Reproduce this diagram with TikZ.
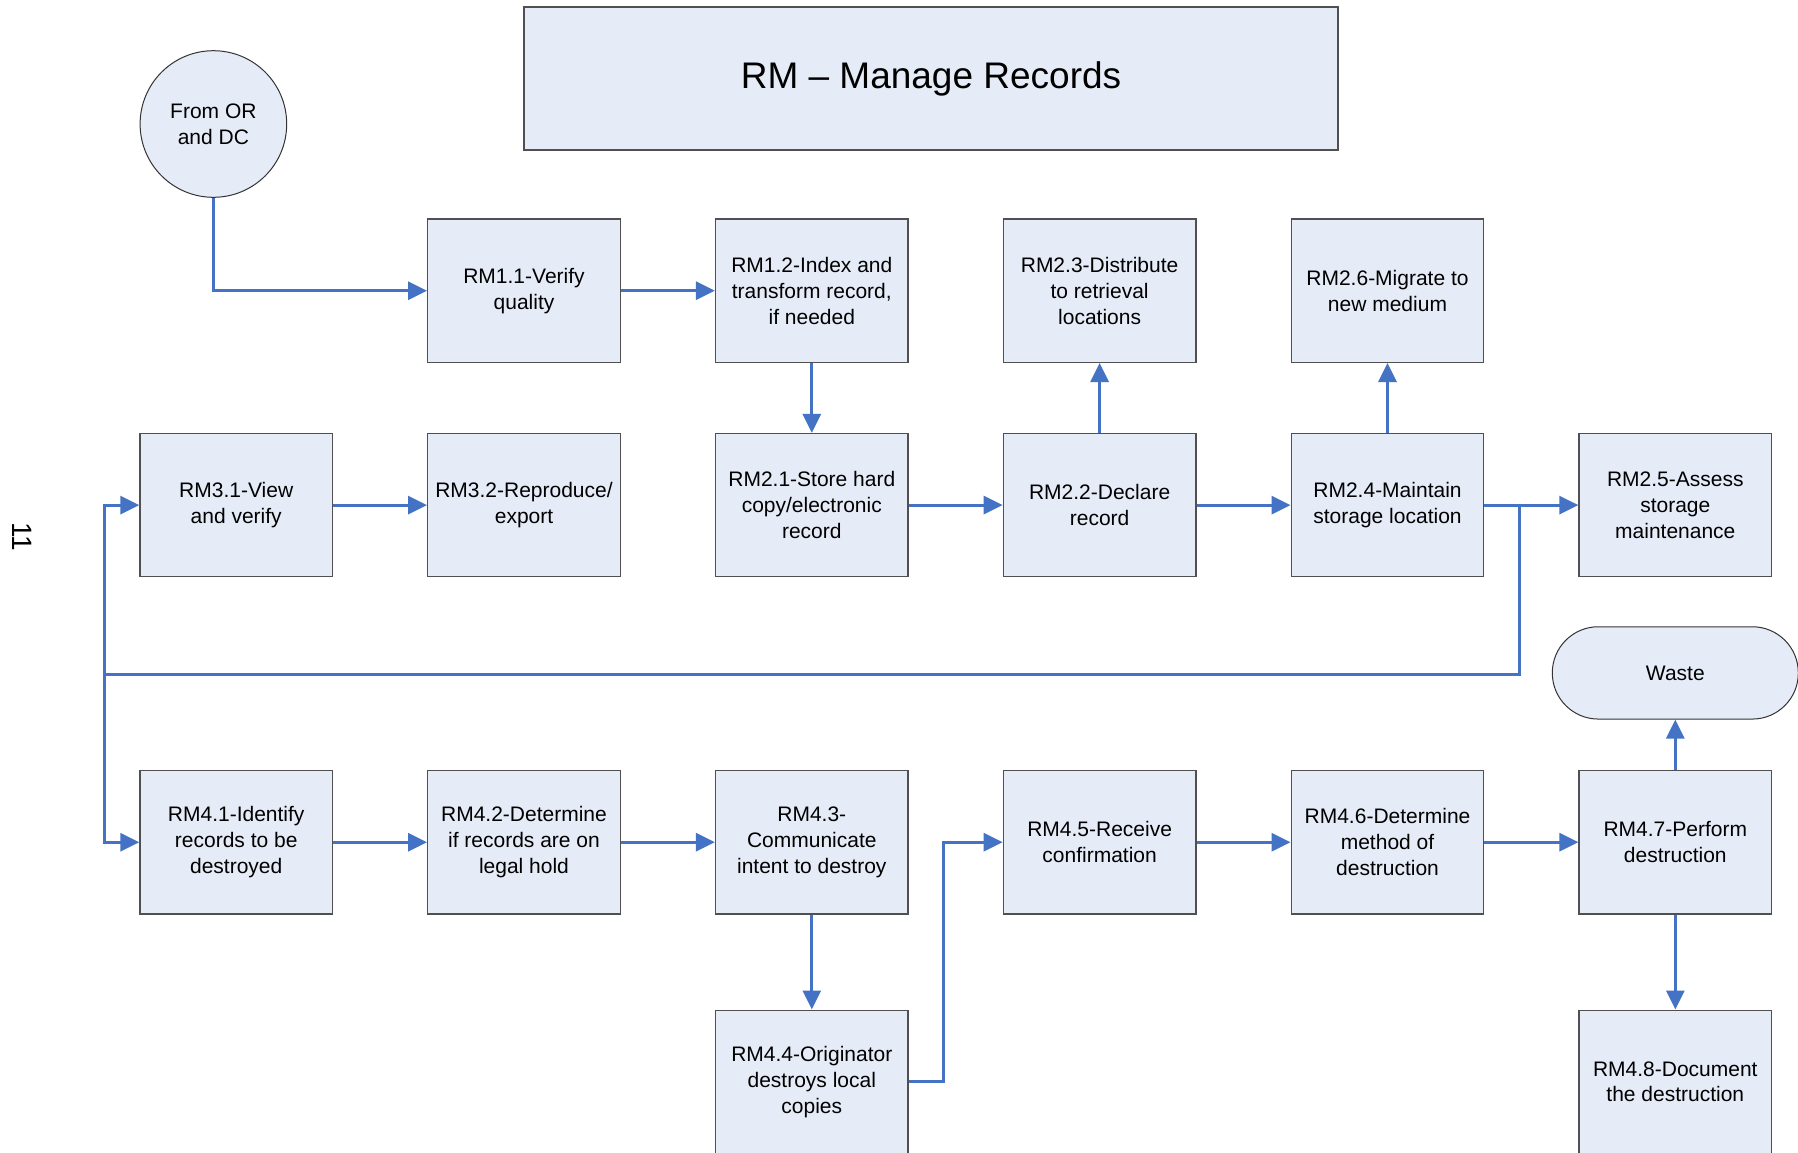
\documentclass[tikz,border=0pt]{standalone}
\usepackage{fontspec}
\setmainfont{Liberation Sans}
\usetikzlibrary{arrows.meta,positioning}
\definecolor{boxfill}{HTML}{E6ECF7}
\definecolor{boxline}{HTML}{505050}
\definecolor{flow}{HTML}{4472C4}
\begin{document}
\begin{tikzpicture}[x=1pt,y=-1pt,
  stepbox/.style={draw=boxline,line width=1.3pt,fill=boxfill,minimum width=192.6pt,minimum height=143.3pt,inner sep=0pt,align=center,font=\fontsize{21}{25.8}\selectfont},
  titlebox/.style={draw=boxline,line width=1.5pt,fill=boxfill,minimum width=814pt,minimum height=143.3pt,inner sep=0pt,font=\fontsize{37}{44}\selectfont},
  startnode/.style={circle,draw=black!80,line width=1pt,fill=boxfill,minimum size=146.6pt,inner sep=0pt,align=center,font=\fontsize{21}{25.8}\selectfont},
  endnode/.style={rectangle,rounded corners=46pt,draw=black!80,line width=1pt,fill=boxfill,minimum width=246pt,minimum height=92.3pt,inner sep=0pt,font=\fontsize{21}{25.8}\selectfont},
  flowline/.style={draw=flow,line width=3pt},
  flowarrow/.style={flowline,-{Triangle[length=19pt,width=18pt]}},
  pagenum/.style={rotate=-90,font=\fontsize{28}{32}\selectfont}
]
\path[use as bounding box,fill=white] (0,0) rectangle (1798,1152);

% title and start
\node[titlebox] (title) at (931,78.5) {RM -- Manage Records};
\node[startnode] (from) at (213.4,124) {From OR\\and DC};
\node[pagenum] (pg) at (22,537) {11};

% row 1
\node[stepbox] (rm11) at (524,290.7) {RM1.1-Verify\\quality};
\node[stepbox] (rm12) at (811.8,290.7) {RM1.2-Index and\\transform record,\\if needed};
\node[stepbox] (rm23) at (1099.6,290.7) {RM2.3-Distribute\\to retrieval\\locations};
\node[stepbox] (rm26) at (1387.5,290.7) {RM2.6-Migrate to\\new medium};

% row 2
\node[stepbox] (rm31) at (236.2,505.1) {RM3.1-View\\and verify};
\node[stepbox] (rm32) at (524,505.1) {RM3.2-Reproduce/\\export};
\node[stepbox] (rm21) at (811.8,505.1) {RM2.1-Store hard\\copy/electronic\\record};
\node[stepbox] (rm22) at (1099.6,505.1) {RM2.2-Declare\\record};
\node[stepbox] (rm24) at (1387.5,505.1) {RM2.4-Maintain\\storage location};
\node[stepbox] (rm25) at (1675.3,505.1) {RM2.5-Assess\\storage\\maintenance};

% waste
\node[endnode] (waste) at (1675.3,672.9) {Waste};

% row 3
\node[stepbox] (rm41) at (236.2,842.2) {RM4.1-Identify\\records to be\\destroyed};
\node[stepbox] (rm42) at (524,842.2) {RM4.2-Determine\\if records are on\\legal hold};
\node[stepbox] (rm43) at (811.8,842.2) {RM4.3-\\Communicate\\intent to destroy};
\node[stepbox] (rm45) at (1099.6,842.2) {RM4.5-Receive\\confirmation};
\node[stepbox] (rm46) at (1387.5,842.2) {RM4.6-Determine\\method of\\destruction};
\node[stepbox] (rm47) at (1675.3,842.2) {RM4.7-Perform\\destruction};

% row 4
\node[stepbox] (rm44) at (811.8,1081.8) {RM4.4-Originator\\destroys local\\copies};
\node[stepbox] (rm48) at (1675.3,1081.8) {RM4.8-Document\\the destruction};

% helper coordinates
\coordinate (j) at (1519.4,505.1);
\coordinate (jl) at (104.3,674.3);
\coordinate (k) at (943.5,1081.8);

% connectors
\draw[flowarrow] (from.south) |- (rm11.west);
\draw[flowarrow] (rm11) -- (rm12);
\draw[flowarrow] (rm12) -- (rm21);
\draw[flowarrow] (rm21) -- (rm22);
\draw[flowarrow] (rm22) -- (rm23);
\draw[flowarrow] (rm22) -- (rm24);
\draw[flowarrow] (rm24) -- (rm26);
\draw[flowarrow] (rm24) -- (rm25);
\draw[flowline] (j) |- (jl);
\draw[flowarrow] (jl) |- (rm31.west);
\draw[flowarrow] (jl) |- (rm41.west);
\draw[flowarrow] (rm31) -- (rm32);
\draw[flowarrow] (rm41) -- (rm42);
\draw[flowarrow] (rm42) -- (rm43);
\draw[flowarrow] (rm43) -- (rm44);
\draw[flowarrow] (rm44.east) -- (k) |- (rm45.west);
\draw[flowarrow] (rm45) -- (rm46);
\draw[flowarrow] (rm46) -- (rm47);
\draw[flowarrow] (rm47) -- (waste);
\draw[flowarrow] (rm47) -- (rm48);
\end{tikzpicture}
\end{document}
